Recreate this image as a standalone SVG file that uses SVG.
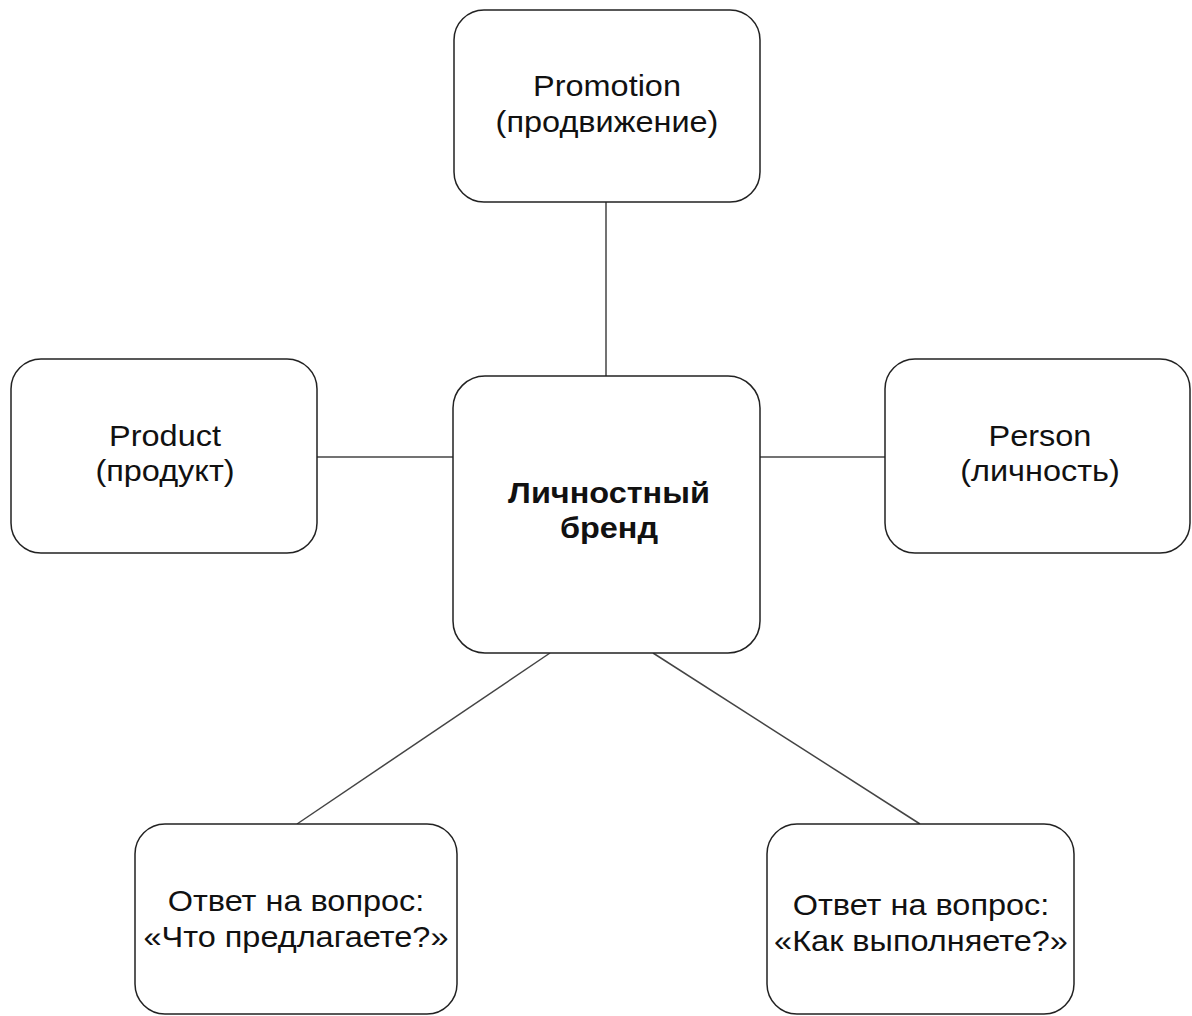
<svg xmlns="http://www.w3.org/2000/svg" width="1192" height="1016" viewBox="0 0 1192 1016">
<style>
.box{fill:#ffffff;stroke:#222222;stroke-width:1.5}
.conn{stroke:#444444;stroke-width:1.5;fill:none}
.t{font-family:"Liberation Sans",Arial,sans-serif;font-size:29px;fill:#111111;text-anchor:middle}
.b{font-weight:bold}
</style>
<rect width="1192" height="1016" fill="#ffffff"/>
<g id="connectors">
<line class="conn" x1="606" y1="202" x2="606" y2="376"/>
<line class="conn" x1="317" y1="457" x2="453" y2="457"/>
<line class="conn" x1="760" y1="457" x2="885" y2="457"/>
<line class="conn" x1="550" y1="653" x2="297" y2="824"/>
<line class="conn" x1="653" y1="653" x2="920" y2="824"/>
</g>
<g id="promotion">
<rect class="box" x="454" y="10" width="306" height="192" rx="30"/>
<g transform="translate(607,0) scale(1.12,1)">
<text class="t" x="0" y="96">Promotion</text>
<text class="t" x="0" y="132">(продвижение)</text>
</g>
</g>
<g id="product">
<rect class="box" x="11" y="359" width="306" height="194" rx="30"/>
<g transform="translate(165,0) scale(1.12,1)">
<text class="t" x="0" y="446">Product</text>
<text class="t" x="0" y="481">(продукт)</text>
</g>
</g>
<g id="brand">
<rect class="box" x="453" y="376" width="307" height="277" rx="32"/>
<g transform="translate(609,0) scale(1.12,1)">
<text class="t b" x="0" y="503">Личностный</text>
<text class="t b" x="0" y="538">бренд</text>
</g>
</g>
<g id="person">
<rect class="box" x="885" y="359" width="305" height="194" rx="30"/>
<g transform="translate(1040,0) scale(1.12,1)">
<text class="t" x="0" y="446">Person</text>
<text class="t" x="0" y="481">(личность)</text>
</g>
</g>
<g id="what">
<rect class="box" x="135" y="824" width="322" height="190" rx="30"/>
<g transform="translate(296,0) scale(1.12,1)">
<text class="t" x="0" y="911">Ответ на вопрос:</text>
<text class="t" x="0" y="947">«Что предлагаете?»</text>
</g>
</g>
<g id="how">
<rect class="box" x="767" y="824" width="307" height="190" rx="30"/>
<g transform="translate(921,0) scale(1.12,1)">
<text class="t" x="0" y="915">Ответ на вопрос:</text>
<text class="t" x="0" y="951">«Как выполняете?»</text>
</g>
</g>
</svg>
